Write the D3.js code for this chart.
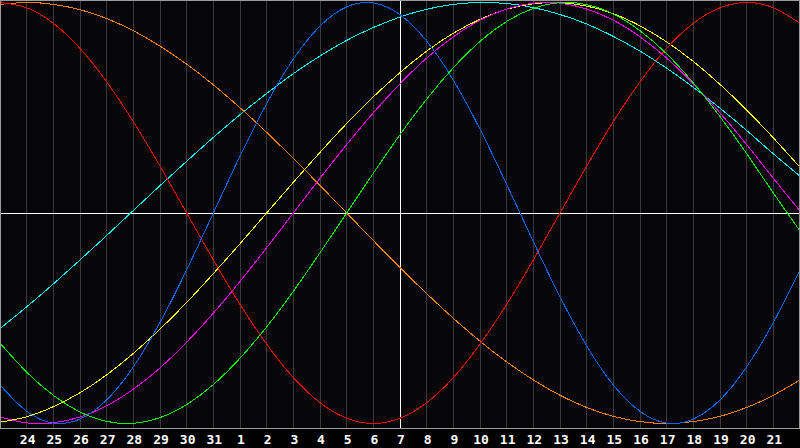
<!DOCTYPE html>
<html>
<head>
  <title>Biorhythm</title>
  <script src="https://d3js.org/d3.v7.min.js"></script>
  <style>
    body { margin: 0; background: #000; }
    svg { display: block; }
  </style>
</head>
<body>
  <svg id="chart"></svg>
  <script>
    // day labels, one per day column (first and last are off the axis)
    const days = ["23","24","25","26","27","28","29","30","31","1","2","3","4","5","6","7",
                  "8","9","10","11","12","13","14","15","16","17","18","19","20","21","22"];

    // values in percent, read at each day line
    const physical     = [-81.7,-94.2,-99.8,-97.9,-88.8,-73.1,-52.0,-27.0,0,27.0,52.0,73.1,88.8,97.9,99.8,94.2,81.7,63.1,39.8,13.6,-13.6,-39.8,-63.1,-81.7,-94.2,-99.8,-97.9,-88.8,-73.1,-52.0,-27.0];
    const emotional    = [100,97.5,90.1,78.2,62.3,43.4,22.3,0,-22.3,-43.4,-62.3,-78.2,-90.1,-97.5,-100,-97.5,-90.1,-78.2,-62.3,-43.4,-22.3,0,22.3,43.4,62.3,78.2,90.1,97.5,100,97.5,90.1];
    const intellectual = [-61.8,-75.6,-86.6,-94.5,-99.0,-99.9,-97.2,-91.0,-81.5,-69.0,-54.1,-37.2,-18.9,0,18.9,37.2,54.1,69.0,81.5,91.0,97.2,99.9,99.0,94.5,86.6,75.6,61.8,45.8,28.2,9.5,-8.5];
    const intuitive    = [-96.9,-99.7,-99.7,-96.9,-91.6,-83.7,-73.6,-61.4,-47.6,-32.5,-16.5,0,16.5,32.5,47.6,61.4,73.6,83.7,91.6,96.9,99.7,99.7,96.9,91.6,83.7,73.6,61.4,47.6,32.5,16.5,1.0];
    const aesthetic    = [-99.4,-96.8,-92.0,-85.4,-76.9,-66.7,-55.2,-42.5,-28.8,-14.6,0,14.6,28.8,42.5,55.2,66.7,76.9,85.4,92.0,96.8,99.4,99.9,98.3,94.7,88.9,81.3,72.0,61.1,48.9,35.7,21.7];
    const awareness    = [99.1,100,99.1,96.6,92.4,86.6,79.3,70.7,60.9,50,38.3,25.9,13.1,0,-13.1,-25.9,-38.3,-50,-60.9,-70.7,-79.3,-86.6,-92.4,-96.6,-99.1,-100,-99.1,-96.6,-92.4,-86.6,-79.3];
    const spiritual    = [-54.9,-44.6,-33.7,-22.3,-10.7,1.2,13.0,24.6,35.9,46.7,56.8,66.2,74.6,82.0,88.1,93.1,96.8,99.1,100,99.5,97.6,94.3,89.8,83.9,76.9,68.8,59.7,49.8,39.2,28.1,17.5];

    const width = 800, height = 448;
    const plotBottom = 428;
    const todayIndex = 15;

    const svg = d3.select("#chart")
      .attr("width", width)
      .attr("height", height);

    svg.append("rect")
      .attr("width", width).attr("height", height)
      .attr("fill", "#000");
    svg.append("rect")
      .attr("width", width).attr("height", plotBottom)
      .attr("fill", "#060609");

    const x = d3.scaleLinear().domain([0, days.length - 1]).range([0, width]);
    const y = d3.scaleLinear().domain([-100, 100]).range([423.5, 2.5]);

    const px = v => Math.floor(x(v)) + 0.5;

    // vertical day lines
    const tickIdx = d3.range(1, days.length - 1);
    svg.append("g")
      .selectAll("line")
      .data(tickIdx.filter(i => i !== todayIndex))
      .join("line")
        .attr("x1", px).attr("x2", px)
        .attr("y1", 0).attr("y2", plotBottom)
        .attr("stroke", "#3a3a3a")
        .attr("shape-rendering", "crispEdges");

    // crosshair (today + zero line)
    svg.append("line")
      .attr("x1", px(todayIndex)).attr("x2", px(todayIndex))
      .attr("y1", 0).attr("y2", plotBottom)
      .attr("stroke", "#fff")
      .attr("shape-rendering", "crispEdges");
    svg.append("line")
      .attr("x1", 0).attr("x2", width)
      .attr("y1", Math.floor(y(0)) + 0.5).attr("y2", Math.floor(y(0)) + 0.5)
      .attr("stroke", "#fff")
      .attr("shape-rendering", "crispEdges");

    const series = [
      { values: spiritual,    color: "#00ffff" },
      { values: awareness,    color: "#ff8000" },
      { values: aesthetic,    color: "#ffff00" },
      { values: intuitive,    color: "#ff00ff" },
      { values: emotional,    color: "#ff0000" },
      { values: physical,     color: "#0a64ff" },
      { values: intellectual, color: "#00ff00" }
    ];

    const line = d3.line()
      .x((d, i) => x(i))
      .y(d => y(d))
      .curve(d3.curveNatural);

    svg.append("g")
      .selectAll("path")
      .data(series)
      .join("path")
        .attr("d", d => line(d.values))
        .attr("fill", "none")
        .attr("stroke", d => d.color)
        .attr("stroke-width", 1)
        .attr("shape-rendering", "crispEdges");

    // frame
    svg.append("rect")
      .attr("x", 0.5).attr("y", 0.5)
      .attr("width", width - 1).attr("height", plotBottom)
      .attr("fill", "none")
      .attr("stroke", "#9a9a9a")
      .attr("shape-rendering", "crispEdges");

    // day labels
    svg.append("g")
      .selectAll("text")
      .data(tickIdx)
      .join("text")
        .attr("x", i => x(i) + 1)
        .attr("y", 444)
        .attr("text-anchor", "middle")
        .attr("fill", "#fff")
        .attr("font-family", "DejaVu Sans Mono")
        .attr("font-weight", "bold")
        .attr("font-size", "13px")
        .text(i => days[i]);
  </script>
</body>
</html>
